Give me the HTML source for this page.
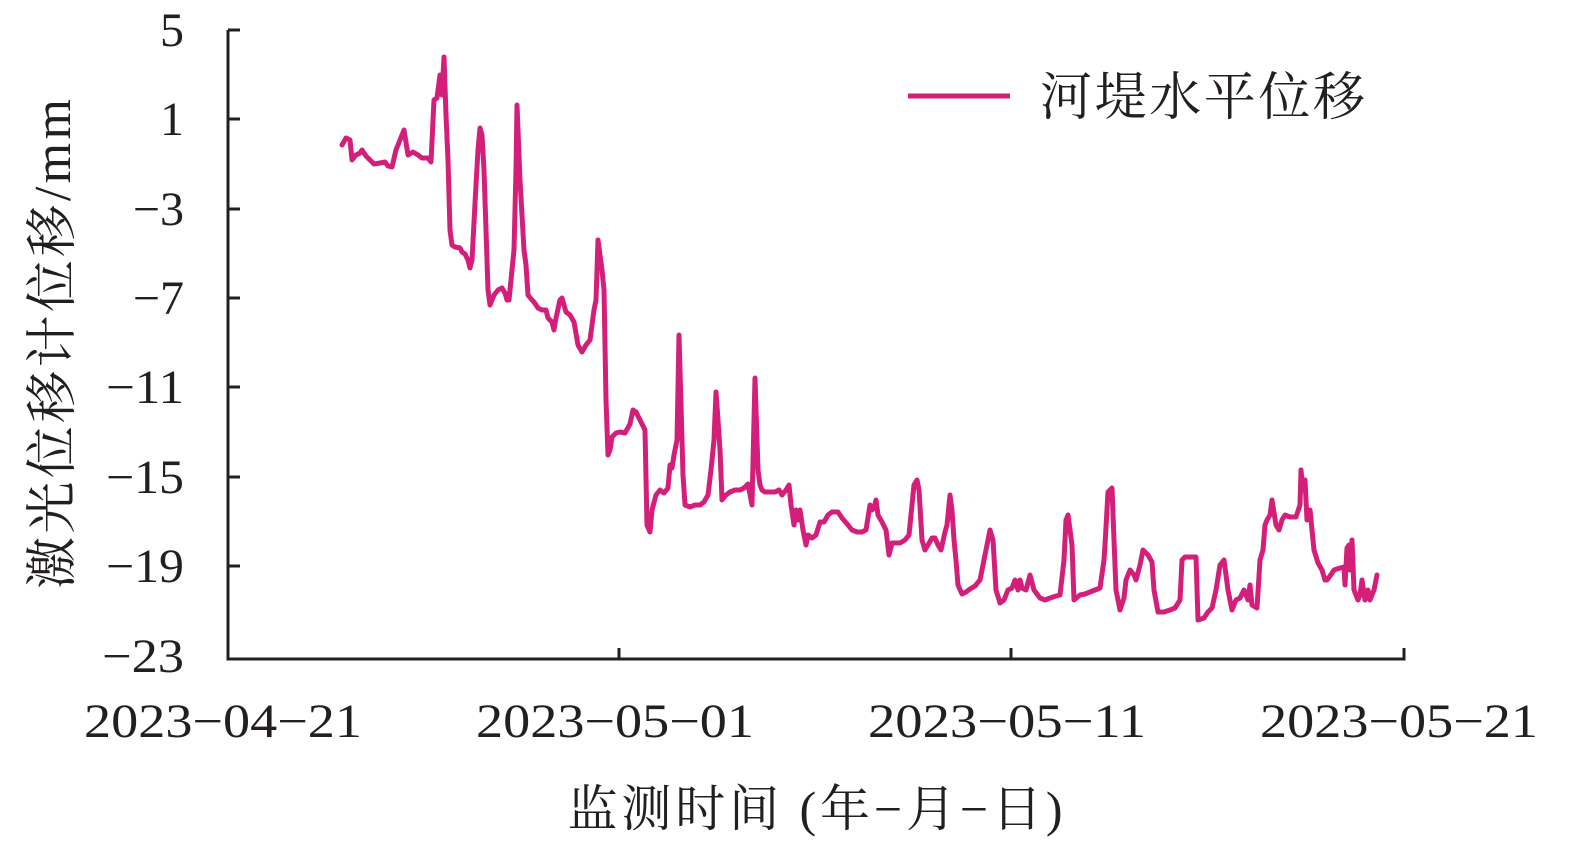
<!DOCTYPE html>
<html><head><meta charset="utf-8"><style>html,body{margin:0;padding:0;background:#fff;overflow:hidden;width:1575px;height:845px}svg{display:block}</style></head>
<body>
<svg width="1575" height="845" viewBox="0 0 1575 845" xmlns="http://www.w3.org/2000/svg">
<g stroke="#231f20" stroke-width="3" fill="none">
<path d="M228,30 V659 H1404 V648"/>
<path d="M228,30 H240 M228,119 H240 M228,209 H240 M228,298 H240 M228,387 H240 M228,477 H240 M228,566 H240"/>
<path d="M619,659 V648 M1011,659 V648"/>
</g>
<g font-family="Liberation Serif, serif" font-size="48" fill="#231f20" text-anchor="end">
<text x="184" y="46">5</text>
<text x="184" y="135">1</text>
<text x="184" y="225">−3</text>
<text x="184" y="314">−7</text>
<text x="184" y="403" textLength="78" lengthAdjust="spacingAndGlyphs">−11</text>
<text x="184" y="493" textLength="78" lengthAdjust="spacingAndGlyphs">−15</text>
<text x="184" y="582" textLength="78" lengthAdjust="spacingAndGlyphs">−19</text>
<text x="184" y="672" textLength="82" lengthAdjust="spacingAndGlyphs">−23</text>
</g>
<g font-family="Liberation Serif, serif" font-size="48" fill="#231f20" text-anchor="middle">
<text x="223" y="737" textLength="278" lengthAdjust="spacingAndGlyphs">2023−04−21</text>
<text x="615" y="737" textLength="278" lengthAdjust="spacingAndGlyphs">2023−05−01</text>
<text x="1007" y="737" textLength="278" lengthAdjust="spacingAndGlyphs">2023−05−11</text>
<text x="1399" y="737" textLength="278" lengthAdjust="spacingAndGlyphs">2023−05−21</text>
</g>
<text x="815" y="826" font-family="Liberation Serif, 'Noto Serif CJK SC', serif" font-size="50" fill="#231f20" text-anchor="middle" textLength="495">监测时间 (年−月−日)</text>
<text transform="translate(70,344) rotate(-90)" font-family="Liberation Serif, 'Noto Serif CJK SC', serif" font-size="52" fill="#231f20" text-anchor="middle" textLength="490">激光位移计位移/mm</text>
<line x1="908" y1="96" x2="1010" y2="96" stroke="#d41f7a" stroke-width="5"/>
<text x="1040" y="115" font-family="'Noto Serif CJK SC', serif" font-size="52" fill="#231f20" textLength="325">河堤水平位移</text>
<polyline fill="none" stroke="#d41f7a" stroke-width="5" stroke-linejoin="round" stroke-linecap="round" points="342,145 346,138 350,140 352,160 356,155 360,153 362,150 366,156 370,160 374,164 380,163 385,162 388,166 392,167 396,150 400,140 404,130 408,155 413,152 418,155 422,158 428,158 431,162 434,100 437,98 440,75 442,95 444,57 446,115 448,160 450,230 452,245 455,247 460,248 462,252 465,254 468,260 470,268 472,260 476,185 478,150 480,128 482,135 484,170 486,230 488,290 490,305 494,295 498,290 502,288 505,293 507,300 509,300 512,270 514,250 516,170 517,105 520,180 524,250 526,265 528,295 532,300 534,302 538,308 542,310 546,310 548,318 552,322 554,330 556,318 560,300 562,298 566,312 570,315 574,322 578,345 582,352 586,345 590,340 594,310 596,300 598,240 602,270 604,290 606,400 608,455 610,450 612,437 616,433 620,432 625,433 630,424 633,410 636,412 640,420 645,430 647,525 650,532 652,510 656,495 660,490 664,493 668,488 670,465 672,468 674,455 677,440 679,335 683,475 685,505 690,507 695,505 700,505 704,502 708,495 711,470 714,440 716,392 718,420 720,450 722,500 726,495 730,492 735,490 740,490 744,488 748,484 752,505 755,378 758,470 760,485 762,490 765,492 770,492 775,492 779,490 782,495 786,490 789,485 791,505 794,525 796,510 798,520 800,510 803,530 806,545 808,535 812,538 816,535 820,522 824,522 828,515 832,512 838,512 842,518 848,525 852,530 857,532 862,532 866,530 870,505 872,510 874,508 876,500 878,515 882,522 886,530 889,555 892,543 896,543 900,543 905,540 909,535 912,505 914,485 917,480 919,490 922,540 925,550 928,545 932,538 935,538 938,545 941,550 945,532 947,525 950,495 952,510 954,540 956,560 958,585 962,594 966,592 970,589 975,586 980,580 984,560 987,545 990,530 993,540 996,590 1000,603 1004,600 1008,590 1012,588 1015,580 1018,590 1020,580 1022,588 1026,590 1030,575 1034,590 1040,598 1045,600 1050,598 1056,596 1060,595 1064,560 1066,520 1068,515 1072,545 1074,600 1080,595 1085,594 1090,592 1095,590 1100,588 1104,560 1105,545 1108,492 1112,488 1114,540 1116,590 1120,610 1124,598 1126,580 1130,570 1134,575 1136,580 1140,565 1143,550 1148,555 1152,562 1154,590 1158,612 1164,612 1170,610 1175,608 1180,600 1182,560 1185,557 1196,557 1198,620 1204,618 1208,612 1212,608 1216,590 1220,565 1224,560 1228,590 1232,610 1236,600 1240,598 1244,590 1248,600 1250,585 1252,605 1257,608 1260,560 1263,550 1265,525 1267,520 1270,515 1272,500 1276,525 1279,530 1282,520 1285,515 1290,517 1296,517 1300,505 1301,470 1303,490 1305,480 1307,520 1310,510 1312,530 1314,550 1318,563 1322,570 1325,580 1327,580 1330,576 1334,570 1340,568 1344,567 1345,585 1347,548 1349,545 1350,570 1352,540 1354,590 1358,600 1360,595 1362,580 1365,600 1368,590 1370,600 1374,590 1377,575"/>
</svg>
</body></html>
